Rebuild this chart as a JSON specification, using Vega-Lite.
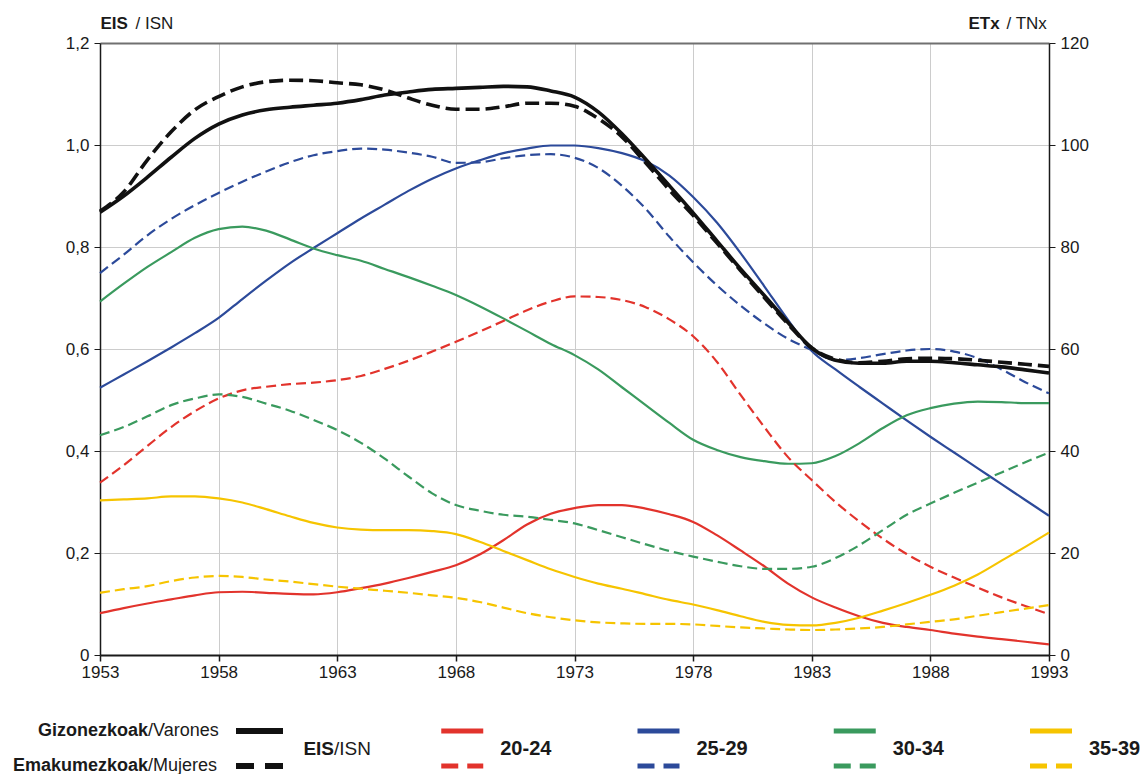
{
  "$schema": "https://vega.github.io/schema/vega-lite/v6.json",
  "background": "white",
  "padding": {"left": 12, "top": 14, "right": 4, "bottom": 0},
  "config": {
    "font": "Liberation Sans",
    "view": {"stroke": null},
    "axis": {
      "labelFont": "Liberation Sans",
      "titleFont": "Liberation Sans",
      "labelFontSize": 17,
      "titleFontSize": 17,
      "labelColor": "#1a1a1a",
      "titleColor": "#1a1a1a",
      "tickColor": "#1a1a1a",
      "domainColor": "#1a1a1a"
    },
    "text": {"font": "Liberation Sans", "color": "#1a1a1a", "baseline": "middle"}
  },
  "bounds": "flush",
  "spacing": 76,
  "vconcat": [
    {
      "width": 949,
      "height": 612,
      "encoding": {
        "x": {
          "field": "year",
          "type": "quantitative",
          "scale": {"domain": [1953, 1993], "nice": false, "zero": false},
          "axis": {
            "values": [1953, 1958, 1963, 1968, 1973, 1978, 1983, 1988, 1993],
            "format": "d",
            "title": null,
            "grid": true,
            "gridColor": "#cccccc",
            "gridWidth": 1,
            "domainWidth": 2,
            "tickSize": 6,
            "tickWidth": 1.5,
            "labelPadding": 3,
            "labelFlush": false
          }
        }
      },
      "layer": [
        {
          "data": {"name": "etx_m"},
          "transform": [{"fold": ["20-24", "25-29", "30-34", "35-39"], "as": ["grp", "v"]}],
          "mark": {"type": "line", "interpolate": "monotone", "strokeWidth": 2.2},
          "encoding": {
            "y": {
              "field": "v",
              "type": "quantitative",
              "scale": {"domain": [0, 120], "nice": false},
              "axis": {
                "orient": "right",
                "values": [0, 20, 40, 60, 80, 100, 120],
                "grid": false,
                "domainWidth": 1.5,
                "tickSize": 6,
                "labelPadding": 5,
                "title": "ETx",
                "titleFontWeight": "bold",
                "titleAngle": 0,
                "titleAlign": "left",
                "titleBaseline": "alphabetic",
                "titleX": -81,
                "titleY": -15
              }
            },
            "color": {
              "field": "grp",
              "type": "nominal",
              "scale": {"domain": ["EIS", "20-24", "25-29", "30-34", "35-39"], "range": ["#111111", "#e2332c", "#2c4a9a", "#3a9a5e", "#f6c400"]},
              "legend": null
            }
          }
        },
        {
          "data": {"name": "etx_w"},
          "transform": [{"fold": ["20-24", "25-29", "30-34", "35-39"], "as": ["grp", "v"]}],
          "mark": {"type": "line", "interpolate": "monotone", "strokeWidth": 2.2, "strokeDash": [10, 5]},
          "encoding": {
            "y": {
              "field": "v",
              "type": "quantitative",
              "scale": {"domain": [0, 120], "nice": false},
              "axis": {
                "orient": "right",
                "labels": false,
                "ticks": false,
                "domain": false,
                "grid": false,
                "title": "/ TNx",
                "titleFontWeight": "normal",
                "titleAngle": 0,
                "titleAlign": "left",
                "titleBaseline": "alphabetic",
                "titleX": -43,
                "titleY": -15
              }
            },
            "color": {
              "field": "grp",
              "type": "nominal",
              "scale": {"domain": ["EIS", "20-24", "25-29", "30-34", "35-39"], "range": ["#111111", "#e2332c", "#2c4a9a", "#3a9a5e", "#f6c400"]},
              "legend": null
            }
          }
        },
        {
          "data": {"name": "eis"},
          "mark": {"type": "line", "interpolate": "monotone", "strokeWidth": 3.6, "color": "#111111"},
          "encoding": {
            "y": {
              "field": "m",
              "type": "quantitative",
              "scale": {"domain": [0, 1.2], "nice": false},
              "axis": {
                "orient": "left",
                "values": [0, 0.2, 0.4, 0.6, 0.8, 1, 1.2],
                "labelExpr": "datum.value === 0 ? '0' : replace(format(datum.value, '.1f'), '.', ',')",
                "grid": true,
                "gridColor": {"condition": {"test": "datum.value > 1.19", "value": "#707070"}, "value": "#cccccc"},
                "gridWidth": {"condition": {"test": "datum.value > 1.19", "value": 2}, "value": 1},
                "domainWidth": 1.5,
                "tickSize": 6,
                "labelPadding": 5,
                "title": "EIS",
                "titleFontWeight": "bold",
                "titleAngle": 0,
                "titleAlign": "left",
                "titleBaseline": "alphabetic",
                "titleX": 0,
                "titleY": -15
              }
            }
          }
        },
        {
          "data": {"name": "eis"},
          "mark": {"type": "line", "interpolate": "monotone", "strokeWidth": 3.6, "color": "#111111", "strokeDash": [14, 6]},
          "encoding": {
            "y": {
              "field": "w",
              "type": "quantitative",
              "scale": {"domain": [0, 1.2], "nice": false},
              "axis": {
                "orient": "left",
                "labels": false,
                "ticks": false,
                "domain": false,
                "grid": false,
                "title": "/ ISN",
                "titleFontWeight": "normal",
                "titleAngle": 0,
                "titleAlign": "left",
                "titleBaseline": "alphabetic",
                "titleX": 35,
                "titleY": -15
              }
            }
          }
        }
      ],
      "resolve": {"scale": {"y": "independent"}, "axis": {"y": "independent"}}
    },
    {
      "width": 949,
      "height": 35,
      "encoding": {
        "x": {
          "field": "grp",
          "type": "nominal",
          "scale": {"type": "point", "domain": ["EIS", "20-24", "25-29", "30-34", "35-39"], "range": [166, 951], "padding": 0},
          "axis": null
        },
        "y": {
          "field": "row",
          "type": "nominal",
          "scale": {"type": "point", "domain": ["men", "mid", "women"], "range": [0, 35], "padding": 0},
          "axis": null
        }
      },
      "layer": [
        {
          "data": {"name": "swatch"},
          "transform": [{"filter": "datum.grp === 'EIS' && datum.style === 'solid'"}],
          "mark": {"type": "rule", "strokeWidth": 6, "strokeCap": "butt", "color": "#111111", "xOffset": -30, "x2Offset": 17},
          "encoding": {"x2": {"field": "grp"}}
        },
        {
          "data": {"name": "swatch"},
          "transform": [{"filter": "datum.grp === 'EIS' && datum.style === 'dashed'"}],
          "mark": {"type": "rule", "strokeWidth": 6, "strokeCap": "butt", "color": "#111111", "xOffset": -30, "x2Offset": 17, "strokeDash": [18, 11]},
          "encoding": {"x2": {"field": "grp"}}
        },
        {
          "data": {"name": "swatch"},
          "transform": [{"filter": "datum.grp !== 'EIS' && datum.style === 'solid'"}],
          "mark": {"type": "rule", "strokeWidth": 5, "strokeCap": "butt", "xOffset": -21, "x2Offset": 21},
          "encoding": {
            "x2": {"field": "grp"},
            "color": {
              "field": "grp",
              "type": "nominal",
              "scale": {"domain": ["EIS", "20-24", "25-29", "30-34", "35-39"], "range": ["#111111", "#e2332c", "#2c4a9a", "#3a9a5e", "#f6c400"]},
              "legend": null
            }
          }
        },
        {
          "data": {"name": "swatch"},
          "transform": [{"filter": "datum.grp !== 'EIS' && datum.style === 'dashed'"}],
          "mark": {"type": "rule", "strokeWidth": 5, "strokeCap": "butt", "xOffset": -21, "x2Offset": 21, "strokeDash": [17, 9]},
          "encoding": {
            "x2": {"field": "grp"},
            "color": {
              "field": "grp",
              "type": "nominal",
              "scale": {"domain": ["EIS", "20-24", "25-29", "30-34", "35-39"], "range": ["#111111", "#e2332c", "#2c4a9a", "#3a9a5e", "#f6c400"]},
              "legend": null
            }
          }
        },
        {
          "data": {"name": "sexlab"},
          "mark": {"type": "text", "align": "right", "dx": -118, "fontSize": 18, "fontWeight": "bold"},
          "encoding": {"text": {"field": "b"}}
        },
        {
          "data": {"name": "sexlab"},
          "mark": {"type": "text", "align": "left", "dx": -118, "fontSize": 18},
          "encoding": {"text": {"field": "r"}}
        },
        {
          "data": {"name": "grplab"},
          "transform": [{"filter": "datum.grp === 'EIS'"}],
          "mark": {"type": "text", "align": "right", "dx": 68, "fontSize": 19, "fontWeight": "bold"},
          "encoding": {"text": {"field": "b"}}
        },
        {
          "data": {"name": "grplab"},
          "transform": [{"filter": "datum.grp === 'EIS'"}],
          "mark": {"type": "text", "align": "left", "dx": 68, "fontSize": 19},
          "encoding": {"text": {"field": "r"}}
        },
        {
          "data": {"name": "grplab"},
          "transform": [{"filter": "datum.grp !== 'EIS'"}],
          "mark": {"type": "text", "align": "left", "dx": 38, "fontSize": 20, "fontWeight": "bold"},
          "encoding": {"text": {"field": "b"}}
        }
      ]
    }
  ],
  "datasets": {
    "eis": [
      {"year": 1953, "m": 0.868, "w": 0.870},
      {"year": 1954, "m": 0.900, "w": 0.908},
      {"year": 1955, "m": 0.937, "w": 0.971},
      {"year": 1956, "m": 0.976, "w": 1.026},
      {"year": 1957, "m": 1.013, "w": 1.069},
      {"year": 1958, "m": 1.041, "w": 1.095},
      {"year": 1959, "m": 1.059, "w": 1.114},
      {"year": 1960, "m": 1.069, "w": 1.124},
      {"year": 1961, "m": 1.074, "w": 1.127},
      {"year": 1962, "m": 1.078, "w": 1.126},
      {"year": 1963, "m": 1.082, "w": 1.122},
      {"year": 1964, "m": 1.089, "w": 1.118},
      {"year": 1965, "m": 1.098, "w": 1.108},
      {"year": 1966, "m": 1.104, "w": 1.092},
      {"year": 1967, "m": 1.109, "w": 1.078},
      {"year": 1968, "m": 1.111, "w": 1.070},
      {"year": 1969, "m": 1.113, "w": 1.070},
      {"year": 1970, "m": 1.115, "w": 1.075},
      {"year": 1971, "m": 1.114, "w": 1.082},
      {"year": 1972, "m": 1.106, "w": 1.082},
      {"year": 1973, "m": 1.094, "w": 1.076},
      {"year": 1974, "m": 1.065, "w": 1.052},
      {"year": 1975, "m": 1.022, "w": 1.016},
      {"year": 1976, "m": 0.972, "w": 0.965},
      {"year": 1977, "m": 0.920, "w": 0.912},
      {"year": 1978, "m": 0.867, "w": 0.862},
      {"year": 1979, "m": 0.812, "w": 0.808},
      {"year": 1980, "m": 0.757, "w": 0.754},
      {"year": 1981, "m": 0.705, "w": 0.701},
      {"year": 1982, "m": 0.652, "w": 0.649},
      {"year": 1983, "m": 0.602, "w": 0.602},
      {"year": 1984, "m": 0.578, "w": 0.580},
      {"year": 1985, "m": 0.572, "w": 0.573},
      {"year": 1986, "m": 0.572, "w": 0.576},
      {"year": 1987, "m": 0.576, "w": 0.581},
      {"year": 1988, "m": 0.576, "w": 0.582},
      {"year": 1989, "m": 0.573, "w": 0.581},
      {"year": 1990, "m": 0.569, "w": 0.578},
      {"year": 1991, "m": 0.565, "w": 0.574},
      {"year": 1992, "m": 0.559, "w": 0.570},
      {"year": 1993, "m": 0.553, "w": 0.566}
    ],
    "etx_m": [
      {"year": 1953, "20-24": 8.2, "25-29": 52.4, "30-34": 69.3, "35-39": 30.3},
      {"year": 1954, "20-24": 9.2, "25-29": 55.0, "30-34": 72.8, "35-39": 30.5},
      {"year": 1955, "20-24": 10.1, "25-29": 57.6, "30-34": 76.1, "35-39": 30.7},
      {"year": 1956, "20-24": 10.9, "25-29": 60.3, "30-34": 79.0, "35-39": 31.1},
      {"year": 1957, "20-24": 11.7, "25-29": 63.1, "30-34": 81.8, "35-39": 31.1},
      {"year": 1958, "20-24": 12.3, "25-29": 66.1, "30-34": 83.5, "35-39": 30.7},
      {"year": 1959, "20-24": 12.4, "25-29": 69.8, "30-34": 84.0, "35-39": 29.9},
      {"year": 1960, "20-24": 12.2, "25-29": 73.4, "30-34": 83.2, "35-39": 28.6},
      {"year": 1961, "20-24": 12.0, "25-29": 76.8, "30-34": 81.5, "35-39": 27.2},
      {"year": 1962, "20-24": 11.9, "25-29": 79.8, "30-34": 79.7, "35-39": 25.9},
      {"year": 1963, "20-24": 12.3, "25-29": 82.7, "30-34": 78.4, "35-39": 25.0},
      {"year": 1964, "20-24": 13.1, "25-29": 85.6, "30-34": 77.3, "35-39": 24.6},
      {"year": 1965, "20-24": 14.0, "25-29": 88.3, "30-34": 75.7, "35-39": 24.5},
      {"year": 1966, "20-24": 15.1, "25-29": 91.0, "30-34": 74.1, "35-39": 24.5},
      {"year": 1967, "20-24": 16.3, "25-29": 93.4, "30-34": 72.4, "35-39": 24.3},
      {"year": 1968, "20-24": 17.6, "25-29": 95.4, "30-34": 70.6, "35-39": 23.7},
      {"year": 1969, "20-24": 19.7, "25-29": 97.0, "30-34": 68.4, "35-39": 22.2},
      {"year": 1970, "20-24": 22.5, "25-29": 98.4, "30-34": 66.0, "35-39": 20.4},
      {"year": 1971, "20-24": 25.6, "25-29": 99.3, "30-34": 63.5, "35-39": 18.6},
      {"year": 1972, "20-24": 27.7, "25-29": 99.9, "30-34": 61.0, "35-39": 16.8},
      {"year": 1973, "20-24": 28.8, "25-29": 99.9, "30-34": 58.8, "35-39": 15.3},
      {"year": 1974, "20-24": 29.4, "25-29": 99.4, "30-34": 56.0, "35-39": 14.0},
      {"year": 1975, "20-24": 29.4, "25-29": 98.4, "30-34": 52.5, "35-39": 13.0},
      {"year": 1976, "20-24": 28.7, "25-29": 96.8, "30-34": 49.0, "35-39": 11.9},
      {"year": 1977, "20-24": 27.6, "25-29": 94.0, "30-34": 45.5, "35-39": 10.8},
      {"year": 1978, "20-24": 26.1, "25-29": 89.8, "30-34": 42.2, "35-39": 9.9},
      {"year": 1979, "20-24": 23.5, "25-29": 84.8, "30-34": 40.2, "35-39": 8.8},
      {"year": 1980, "20-24": 20.5, "25-29": 78.8, "30-34": 38.8, "35-39": 7.6},
      {"year": 1981, "20-24": 17.4, "25-29": 72.3, "30-34": 38.0, "35-39": 6.5},
      {"year": 1982, "20-24": 14.0, "25-29": 65.7, "30-34": 37.5, "35-39": 5.9},
      {"year": 1983, "20-24": 11.3, "25-29": 59.6, "30-34": 37.6, "35-39": 5.8},
      {"year": 1984, "20-24": 9.3, "25-29": 56.0, "30-34": 39.0, "35-39": 6.3},
      {"year": 1985, "20-24": 7.6, "25-29": 52.6, "30-34": 41.5, "35-39": 7.3},
      {"year": 1986, "20-24": 6.3, "25-29": 49.3, "30-34": 44.5, "35-39": 8.7},
      {"year": 1987, "20-24": 5.5, "25-29": 46.0, "30-34": 47.0, "35-39": 10.2},
      {"year": 1988, "20-24": 4.9, "25-29": 42.8, "30-34": 48.4, "35-39": 11.8},
      {"year": 1989, "20-24": 4.2, "25-29": 39.7, "30-34": 49.3, "35-39": 13.6},
      {"year": 1990, "20-24": 3.6, "25-29": 36.6, "30-34": 49.7, "35-39": 15.8},
      {"year": 1991, "20-24": 3.1, "25-29": 33.5, "30-34": 49.6, "35-39": 18.5},
      {"year": 1992, "20-24": 2.6, "25-29": 30.4, "30-34": 49.4, "35-39": 21.2},
      {"year": 1993, "20-24": 2.1, "25-29": 27.3, "30-34": 49.4, "35-39": 24.0}
    ],
    "etx_w": [
      {"year": 1953, "20-24": 33.8, "25-29": 74.9, "30-34": 43.1, "35-39": 12.2},
      {"year": 1954, "20-24": 37.2, "25-29": 78.5, "30-34": 44.7, "35-39": 12.9},
      {"year": 1955, "20-24": 41.0, "25-29": 82.3, "30-34": 46.8, "35-39": 13.5},
      {"year": 1956, "20-24": 44.7, "25-29": 85.5, "30-34": 49.0, "35-39": 14.5},
      {"year": 1957, "20-24": 47.8, "25-29": 88.2, "30-34": 50.3, "35-39": 15.2},
      {"year": 1958, "20-24": 50.3, "25-29": 90.6, "30-34": 51.1, "35-39": 15.5},
      {"year": 1959, "20-24": 51.9, "25-29": 92.8, "30-34": 50.6, "35-39": 15.3},
      {"year": 1960, "20-24": 52.6, "25-29": 94.8, "30-34": 49.3, "35-39": 14.8},
      {"year": 1961, "20-24": 53.1, "25-29": 96.6, "30-34": 47.9, "35-39": 14.4},
      {"year": 1962, "20-24": 53.4, "25-29": 98.0, "30-34": 46.1, "35-39": 13.9},
      {"year": 1963, "20-24": 53.9, "25-29": 98.8, "30-34": 44.1, "35-39": 13.4},
      {"year": 1964, "20-24": 54.7, "25-29": 99.3, "30-34": 41.6, "35-39": 13.0},
      {"year": 1965, "20-24": 56.1, "25-29": 99.1, "30-34": 38.5, "35-39": 12.6},
      {"year": 1966, "20-24": 57.7, "25-29": 98.5, "30-34": 35.0, "35-39": 12.2},
      {"year": 1967, "20-24": 59.5, "25-29": 97.7, "30-34": 31.7, "35-39": 11.7},
      {"year": 1968, "20-24": 61.4, "25-29": 96.5, "30-34": 29.4, "35-39": 11.2},
      {"year": 1969, "20-24": 63.4, "25-29": 96.6, "30-34": 28.3, "35-39": 10.4},
      {"year": 1970, "20-24": 65.5, "25-29": 97.4, "30-34": 27.5, "35-39": 9.3},
      {"year": 1971, "20-24": 67.6, "25-29": 98.0, "30-34": 27.1, "35-39": 8.2},
      {"year": 1972, "20-24": 69.3, "25-29": 98.2, "30-34": 26.5, "35-39": 7.4},
      {"year": 1973, "20-24": 70.3, "25-29": 97.5, "30-34": 25.8, "35-39": 6.8},
      {"year": 1974, "20-24": 70.2, "25-29": 95.5, "30-34": 24.5, "35-39": 6.4},
      {"year": 1975, "20-24": 69.6, "25-29": 92.0, "30-34": 23.1, "35-39": 6.2},
      {"year": 1976, "20-24": 68.2, "25-29": 87.5, "30-34": 21.7, "35-39": 6.1},
      {"year": 1977, "20-24": 65.8, "25-29": 82.0, "30-34": 20.4, "35-39": 6.1},
      {"year": 1978, "20-24": 62.5, "25-29": 77.0, "30-34": 19.3, "35-39": 6.0},
      {"year": 1979, "20-24": 57.5, "25-29": 72.5, "30-34": 18.3, "35-39": 5.7},
      {"year": 1980, "20-24": 51.0, "25-29": 68.5, "30-34": 17.4, "35-39": 5.4},
      {"year": 1981, "20-24": 44.7, "25-29": 65.0, "30-34": 16.9, "35-39": 5.2},
      {"year": 1982, "20-24": 38.8, "25-29": 62.0, "30-34": 16.9, "35-39": 5.0},
      {"year": 1983, "20-24": 34.3, "25-29": 59.8, "30-34": 17.3, "35-39": 4.9},
      {"year": 1984, "20-24": 30.0, "25-29": 57.8, "30-34": 19.0, "35-39": 5.0},
      {"year": 1985, "20-24": 26.2, "25-29": 58.2, "30-34": 21.5, "35-39": 5.2},
      {"year": 1986, "20-24": 22.8, "25-29": 59.0, "30-34": 24.5, "35-39": 5.5},
      {"year": 1987, "20-24": 19.8, "25-29": 59.7, "30-34": 27.5, "35-39": 6.0},
      {"year": 1988, "20-24": 17.3, "25-29": 60.0, "30-34": 29.7, "35-39": 6.5},
      {"year": 1989, "20-24": 15.2, "25-29": 59.5, "30-34": 31.8, "35-39": 7.0},
      {"year": 1990, "20-24": 13.2, "25-29": 58.2, "30-34": 33.8, "35-39": 7.7},
      {"year": 1991, "20-24": 11.3, "25-29": 56.0, "30-34": 35.8, "35-39": 8.4},
      {"year": 1992, "20-24": 9.6, "25-29": 53.5, "30-34": 37.8, "35-39": 9.1},
      {"year": 1993, "20-24": 8.0, "25-29": 51.3, "30-34": 39.7, "35-39": 9.8}
    ],
    "swatch": [
      {"grp": "EIS", "row": "men", "style": "solid"},
      {"grp": "EIS", "row": "women", "style": "dashed"},
      {"grp": "20-24", "row": "men", "style": "solid"},
      {"grp": "20-24", "row": "women", "style": "dashed"},
      {"grp": "25-29", "row": "men", "style": "solid"},
      {"grp": "25-29", "row": "women", "style": "dashed"},
      {"grp": "30-34", "row": "men", "style": "solid"},
      {"grp": "30-34", "row": "women", "style": "dashed"},
      {"grp": "35-39", "row": "men", "style": "solid"},
      {"grp": "35-39", "row": "women", "style": "dashed"}
    ],
    "sexlab": [
      {"grp": "EIS", "row": "men", "b": "Gizonezkoak", "r": "/Varones"},
      {"grp": "EIS", "row": "women", "b": "Emakumezkoak", "r": "/Mujeres"}
    ],
    "grplab": [
      {"grp": "EIS", "row": "mid", "b": "EIS", "r": "/ISN"},
      {"grp": "20-24", "row": "mid", "b": "20-24"},
      {"grp": "25-29", "row": "mid", "b": "25-29"},
      {"grp": "30-34", "row": "mid", "b": "30-34"},
      {"grp": "35-39", "row": "mid", "b": "35-39"}
    ]
  }
}
